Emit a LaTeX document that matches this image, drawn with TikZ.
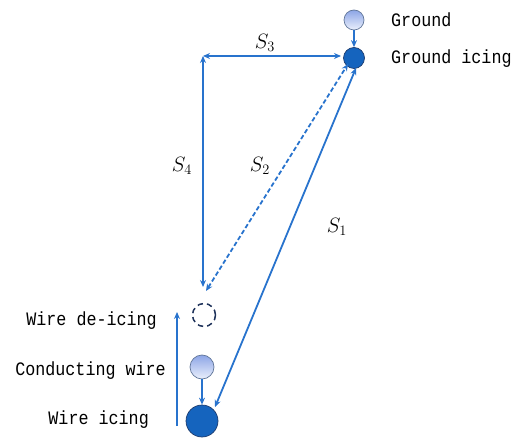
\documentclass[tikz,border=0pt]{standalone}
\usepackage{fontspec}
\setmonofont[FakeStretch=0.88]{Liberation Mono}
\usetikzlibrary{arrows.meta}
\definecolor{lineblue}{RGB}{40,115,205}
\definecolor{darkfill}{RGB}{21,100,190}
\definecolor{darkedge}{RGB}{30,60,110}
\definecolor{lighttop}{RGB}{140,165,230}
\definecolor{lightbot}{RGB}{235,240,252}
\definecolor{dashedge}{RGB}{30,50,90}
\tikzset{
  conn/.style={draw=lineblue, line width=1.8pt, -{Stealth[length=7pt,width=6pt]}},
  dconn/.style={draw=lineblue, line width=1.8pt, {Stealth[length=7pt,width=6pt]}-{Stealth[length=7pt,width=6pt]}},
  darkc/.style={circle, fill=darkfill, draw=darkedge, line width=0.7pt, inner sep=0pt},
  lightc/.style={circle, top color=lighttop, bottom color=lightbot, draw=darkedge!70, line width=0.7pt, inner sep=0pt},
  dashc/.style={circle, draw=dashedge, dash pattern=on 5.5pt off 4pt, line width=1.5pt, inner sep=0pt},
  lbl/.style={font=\fontsize{19}{21}\ttfamily, text=black, inner sep=0pt},
  slbl/.style={font=\fontsize{22}{24}\selectfont, inner sep=0pt}
}
\begin{document}
\begin{tikzpicture}[x=1pt,y=-1pt]
\useasboundingbox (0,0) rectangle (511,438);
% circles
\node[lightc, minimum size=20pt] (g) at (354,20) {};
\node[darkc, minimum size=21pt] (gi) at (354,58) {};
\node[dashc, minimum size=23pt] (wd) at (204,315) {};
\node[lightc, minimum size=24pt] (cw) at (202,367) {};
\node[darkc, minimum size=32pt] (wi) at (202,421) {};
% corner
\coordinate (c) at (203,56);
\coordinate (s3r) at (341,56);
\coordinate (s4b) at (203,287);
\coordinate (s2a) at (206,291);
\coordinate (s2b) at (348,64);
\coordinate (s1a) at (356,68);
\coordinate (s1b) at (215,407);
\coordinate (la) at (177,426);
\coordinate (lb) at (177,312);
% connectors
\draw[conn] (g) -- (gi);
\draw[conn] (cw) -- (wi);
\draw[dconn] (c) -- (s3r);
\draw[dconn] (s4b) -- (c);
\draw[dconn, dash pattern=on 4.5pt off 2.5pt] (s2a) -- (s2b);
\draw[dconn] (s1a) -- (s1b);
\draw[conn] (la) -- (lb);
% labels
\node[lbl, anchor=west] (tg) at (391,20) {Ground};
\node[lbl, anchor=west] (tgi) at (391,59) {Ground icing};
\node[lbl, anchor=east] (twd) at (157,321) {Wire de-icing};
\node[lbl, anchor=east] (tcw) at (166,371) {Conducting wire};
\node[lbl, anchor=east] (twi) at (149,420) {Wire icing};
\node[slbl] (s3) at (265,43) {$S_3$};
\node[slbl] (s4) at (182,166) {$S_4$};
\node[slbl] (s2) at (260,166) {$S_2$};
\node[slbl] (s1) at (337,227) {$S_1$};
\end{tikzpicture}
\end{document}
